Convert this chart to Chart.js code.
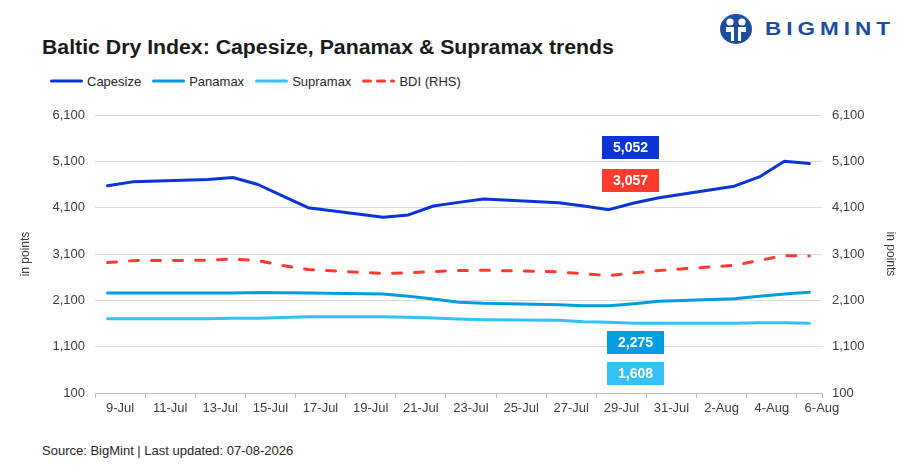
<!DOCTYPE html>
<html>
<head>
<meta charset="utf-8">
<title>Baltic Dry Index</title>
<script src="https://cdn.jsdelivr.net/npm/chart.js@4.4.1/dist/chart.umd.min.js"></script>
<style>
  html, body { margin: 0; padding: 0; background: #fff; }
  body { width: 912px; height: 471px; position: relative; overflow: hidden; font-family: "Liberation Sans", Arial, sans-serif; color: #262626; }
  #title { position: absolute; left: 42px; top: 36px; font-size: 20px; font-weight: bold; color: #1a1a1a; white-space: nowrap; transform: scaleX(1.063); transform-origin: left center; }
  #legend { position: absolute; left: 50px; top: 73px; height: 16px; display: flex; align-items: center; font-size: 13px; color: #262626; }
  .item { display: flex; align-items: center; margin-right: 11px; }
  .item svg { margin-right: 4px; }
  #wrap { position: absolute; left: 0; top: 95px; width: 912px; height: 330px; }
  #source { position: absolute; left: 42px; top: 443px; font-size: 13px; color: #262626; }
  #logo { position: absolute; left: 718px; top: 13px; display: flex; align-items: center; }
  #logo span { display: inline-block; font-size: 18px; font-weight: bold; letter-spacing: 4px; color: #1d4e9e; margin-left: 11px; transform: scaleX(1.25); transform-origin: left center; }
</style>
</head>
<body>
<div id="logo">
  <svg width="36" height="32" viewBox="0 0 36 32">
    <ellipse cx="18" cy="16" rx="16" ry="15" fill="#1d4e9e"/>
    <circle cx="12" cy="9" r="3.6" fill="#fff"/>
    <circle cx="24" cy="9" r="3.6" fill="#fff"/>
    <path d="M8 14 h8 v14 h-3 v-9 h-5 z" fill="#fff"/>
    <path d="M28 14 h-8 v14 h3 v-9 h5 z" fill="#fff"/>
  </svg>
  <span>BIGMINT</span>
</div>
<div id="title">Baltic Dry Index: Capesize, Panamax &amp; Supramax trends</div>
<div id="legend"></div>
<div id="wrap"><canvas id="bdiChart"></canvas></div>
<div id="source">Source: BigMint | Last updated: 07-08-2026</div>

<script>
// trading days shown in the chart
const dates = [
  '2026-07-09', '2026-07-10', '2026-07-13', '2026-07-14', '2026-07-15', '2026-07-16', '2026-07-17',
  '2026-07-20', '2026-07-21', '2026-07-22', '2026-07-23', '2026-07-24', '2026-07-27', '2026-07-28',
  '2026-07-29', '2026-07-30', '2026-07-31', '2026-08-03', '2026-08-04', '2026-08-05', '2026-08-06'
];

const capesize = [4571, 4657, 4707, 4750, 4600, 4350, 4100, 3893, 3943, 4136, 4214, 4286, 4207, 4136, 4057, 4200, 4314, 4564, 4764, 5100, 5052];
const panamax = [2257, 2257, 2257, 2257, 2271, 2264, 2257, 2236, 2186, 2129, 2057, 2035, 2007, 1985, 1985, 2028, 2078, 2136, 2186, 2237, 2275];
const supramax = [1700, 1700, 1700, 1714, 1714, 1729, 1743, 1743, 1733, 1719, 1697, 1683, 1669, 1640, 1625, 1604, 1604, 1604, 1618, 1618, 1608];
const bdi = [2914, 2957, 2964, 2993, 2957, 2850, 2764, 2679, 2693, 2721, 2743, 2750, 2714, 2671, 2636, 2693, 2743, 2857, 2964, 3064, 3057];

const xTickLabels = ['9-Jul', '11-Jul', '13-Jul', '15-Jul', '17-Jul', '19-Jul', '21-Jul', '23-Jul',
  '25-Jul', '27-Jul', '29-Jul', '31-Jul', '2-Aug', '4-Aug', '6-Aug'];

const yMin = 100;
const yMax = 6100;
const yStep = 1000;

const colors = {
  capesize: '#0a35d6',
  panamax: '#009ee0',
  supramax: '#33c1f7',
  bdi: '#ff3b30',
  grid: '#d9d9d9',
  axis: '#bfbfbf',
  text: '#404040'
};

// days since the first date, so weekends keep their gap on the axis
const dayIndex = dates.map(d => (Date.parse(d) - Date.parse(dates[0])) / 86400000);
const lastDay = dayIndex[dayIndex.length - 1];

function toPoints(values) {
  return values.map((v, i) => ({ x: dayIndex[i], y: v }));
}

function lineSet(label, values, color, axis, dash) {
  return {
    label: label,
    data: toPoints(values),
    borderColor: color,
    backgroundColor: color,
    borderWidth: 3,
    borderDash: dash || [],
    borderCapStyle: 'round',
    borderJoinStyle: 'round',
    pointRadius: 0,
    tension: 0,
    yAxisID: axis
  };
}

// value boxes drawn next to the lines
const valueBoxes = [
  { series: 0, dx: 535.5, dy: 32.5, color: colors.capesize },
  { series: 3, dx: 535.5, dy: 65.5, color: colors.bdi },
  { series: 1, dx: 540.5, dy: 227.5, color: colors.panamax },
  { series: 2, dx: 540.5, dy: 258.5, color: colors.supramax }
];

const valueBoxPlugin = {
  id: 'valueBoxes',
  afterDatasetsDraw(chart) {
    const { ctx, chartArea } = chart;
    ctx.save();
    valueBoxes.forEach(b => {
      const values = chart.data.datasets[b.series].data;
      const last = values[values.length - 1].y;
      const cx = chartArea.left + b.dx;
      const cy = chartArea.top + b.dy;
      ctx.fillStyle = b.color;
      ctx.fillRect(cx - 28.5, cy - 11.5, 57, 23);
      ctx.fillStyle = '#fff';
      ctx.font = 'bold 14px "Liberation Sans", Arial, sans-serif';
      ctx.textAlign = 'center';
      ctx.textBaseline = 'middle';
      ctx.fillText(last.toLocaleString('en-US'), cx, cy + 1);
    });
    ctx.restore();
  }
};

const tickFont = { family: '"Liberation Sans", Arial, sans-serif', size: 13 };

const ctx = document.getElementById('bdiChart').getContext('2d');
const bdiChart = new Chart(ctx, {
  type: 'line',
  data: {
    datasets: [
      lineSet('Capesize', capesize, colors.capesize, 'y'),
      lineSet('Panamax', panamax, colors.panamax, 'y'),
      lineSet('Supramax', supramax, colors.supramax, 'y'),
      lineSet('BDI (RHS)', bdi, colors.bdi, 'y1', [9, 13])
    ]
  },
  options: {
    responsive: true,
    maintainAspectRatio: false,
    animation: false,
    layout: { padding: { top: 20, left: 0, right: 0, bottom: 0 } },
    plugins: {
      legend: { display: false },
      tooltip: { enabled: false }
    },
    scales: {
      x: {
        type: 'linear',
        min: -0.5,
        max: lastDay + 0.5,
        afterBuildTicks: scale => {
          const ticks = xTickLabels.map((t, i) => ({ value: i * 2 - 0.5 }));
          ticks.push({ value: lastDay + 0.5 });
          scale.ticks = ticks;
        },
        afterFit: scale => { scale.height = 32; },
        border: { display: true, color: colors.axis, width: 1 },
        grid: { drawOnChartArea: false, drawTicks: true, tickLength: 5, color: colors.axis },
        ticks: {
          autoSkip: false,
          maxRotation: 0,
          minRotation: 0,
          labelOffset: 25,
          padding: 3,
          color: colors.text,
          font: tickFont,
          callback: (value, index) => xTickLabels[index] || ''
        }
      },
      y: {
        position: 'left',
        min: yMin,
        max: yMax,
        afterFit: scale => { scale.width = 95; },
        border: { display: false },
        grid: { color: colors.grid, drawTicks: false },
        ticks: { stepSize: yStep, padding: 10, color: colors.text, font: tickFont },
        title: { display: true, text: 'in points', color: colors.text, padding: { top: 18 }, font: { family: tickFont.family, size: 12 } }
      },
      y1: {
        position: 'right',
        min: yMin,
        max: yMax,
        afterFit: scale => { scale.width = 90; },
        border: { display: false },
        grid: { drawOnChartArea: false, drawTicks: false },
        ticks: { stepSize: yStep, padding: 10, color: colors.text, font: tickFont },
        title: { display: true, text: 'in points', color: colors.text, padding: { top: 14 }, font: { family: tickFont.family, size: 12 } }
      }
    }
  },
  plugins: [valueBoxPlugin]
});

// HTML legend built from the datasets
const legendBox = document.getElementById('legend');
bdiChart.data.datasets.forEach(ds => {
  const item = document.createElement('div');
  item.className = 'item';
  const dash = ds.borderDash.length ? ' stroke-dasharray="7 7"' : '';
  item.innerHTML = '<svg width="33" height="6"><line x1="1.5" y1="3" x2="31.5" y2="3" stroke="' + ds.borderColor +
    '" stroke-width="3" stroke-linecap="round"' + dash + '/></svg><span>' + ds.label + '</span>';
  legendBox.appendChild(item);
});
</script>
</body>
</html>
